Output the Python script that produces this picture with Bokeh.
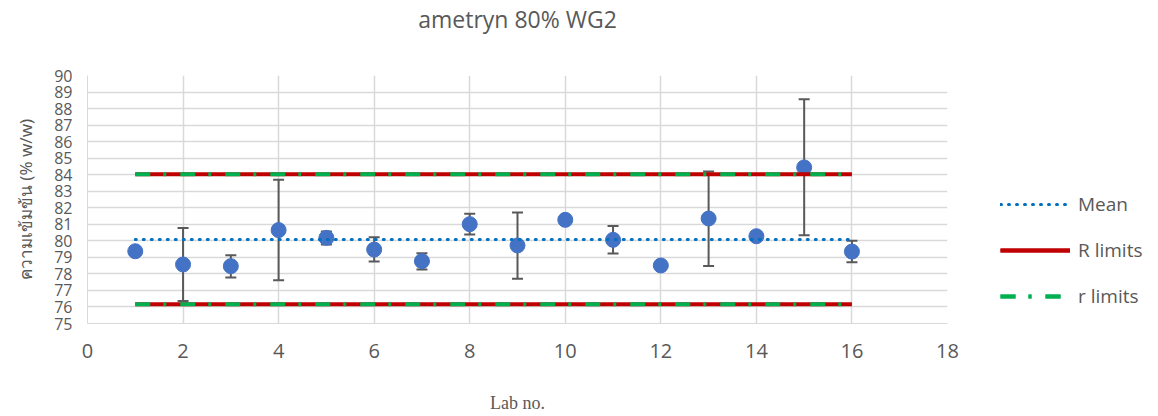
import math
from bokeh.plotting import figure
from bokeh.models import (ColumnDataSource, Range1d, FixedTicker, Whisker, TeeHead,
                          Legend, LegendItem, Title)
from bokeh.embed import file_html
from bokeh.resources import INLINE

# ---------------- data ----------------
labs = list(range(1, 17))
values = [79.37, 78.57, 78.47, 80.65, 80.18, 79.47, 78.77, 81.01,
          79.72, 81.27, 80.06, 78.51, 81.35, 80.28, 84.44, 79.35]
err_upper = [None, 80.77, 79.13, 83.70, 80.56, 80.22, 79.25, 81.64,
             81.72, None, 80.89, None, 84.20, None, 88.57, 80.00]
err_lower = [None, 76.36, 77.78, 77.62, 79.78, 78.75, 78.26, 80.38,
             77.70, None, 79.23, None, 78.48, None, 80.34, 78.71]
line_x = [1, 16]
mean_value = 80.08
R_limits = [76.16, 84.02]
r_limits = [76.16, 84.02]
x_ticks = list(range(0, 19, 2))
y_ticks = list(range(75, 91))

TXT = "#595959"
GRID = "#D9D9D9"

p = figure(frame_width=860, frame_height=248, min_border_left=87, min_border_right=205,
           min_border_top=74, min_border_bottom=88,
           x_range=Range1d(0, 18), y_range=Range1d(75, 90),
           output_backend="svg", toolbar_location=None)
p.outline_line_color = None
p.background_fill_color = "white"

p.title.text = "ametryn 80% WG2"
p.title.align = "center"
p.title.text_font = "Open Sans"
p.title.text_font_size = "23px"
p.title.text_font_style = "normal"
p.title.text_color = TXT
p.title.standoff = 0

# spacer title (placed between the frame and the real title)
spacer = Title(text=" ", text_font_size="10px", standoff=28, text_color=TXT)
p.add_layout(spacer, "above")

# axes
p.xaxis.ticker = FixedTicker(ticks=x_ticks)
p.yaxis.ticker = FixedTicker(ticks=y_ticks)
for ax in (p.xaxis[0], p.yaxis[0]):
    ax.axis_line_color = GRID
    ax.axis_line_width = 1
    ax.major_tick_line_color = None
    ax.minor_tick_line_color = None
    ax.major_tick_out = 0
    ax.major_tick_in = 0
    ax.major_label_text_color = TXT
    ax.major_label_text_font = "Open Sans"
p.xaxis.major_label_text_font_size = "20px"
p.xaxis.major_label_standoff = 20
p.yaxis.major_label_text_font_size = "16px"
p.yaxis.major_label_standoff = 15
p.xaxis.axis_label = "Lab no."
p.xaxis.axis_label_text_font = "Liberation Serif"
p.xaxis.axis_label_text_font_size = "18px"
p.xaxis.axis_label_text_font_style = "normal"
p.xaxis.axis_label_text_color = TXT
p.xaxis.axis_label_standoff = 32
p.yaxis.axis_label = "ความเข้มข้น (% w/w)"
p.yaxis.axis_label_text_font = "Noto Sans"
p.yaxis.axis_label_text_font_size = "17px"
p.yaxis.axis_label_text_font_style = "normal"
p.yaxis.axis_label_text_color = TXT
p.yaxis.axis_label_standoff = 14

p.xgrid.grid_line_color = GRID
p.ygrid.grid_line_color = GRID
p.xgrid.grid_line_width = 1.5
p.ygrid.grid_line_width = 1.5

# error bars
ex = [l for l, u in zip(labs, err_upper) if u is not None]
eu = [u for u in err_upper if u is not None]
el = [lo for lo in err_lower if lo is not None]
esrc = ColumnDataSource(dict(x=ex, upper=eu, lower=el))
wh = Whisker(base="x", upper="upper", lower="lower", source=esrc,
             line_color="#595959", line_width=2,
             upper_head=TeeHead(size=11, line_color="#595959", line_width=2),
             lower_head=TeeHead(size=11, line_color="#595959", line_width=2))
p.add_layout(wh)

# points
p.scatter(labs, values, size=15, fill_color="#4472C4", line_color="#4472C4")

# lines
mean_r = p.line(line_x, [mean_value, mean_value], line_color="#0070C0", line_width=3,
                line_dash="1 7", line_cap="round")
R_rs = [p.line(line_x, [v, v], line_color="#C00000", line_width=4) for v in R_limits]
r_rs = [p.line(line_x, [v, v], line_color="#00B050", line_width=4, line_dash="15 13 3 14")
        for v in r_limits]

legend = Legend(items=[LegendItem(label="Mean", renderers=[mean_r]),
                       LegendItem(label="R limits", renderers=R_rs),
                       LegendItem(label="r limits", renderers=r_rs)],
                location=(53, 14))
legend.padding = 0
legend.margin = 0
legend.border_line_color = None
legend.background_fill_alpha = 0
legend.glyph_width = 70
legend.glyph_height = 20
legend.label_height = 20
legend.spacing = 20
legend.label_standoff = 8
legend.label_text_font = "Open Sans"
legend.label_text_font_size = "19px"
legend.label_text_color = TXT
p.add_layout(legend, "right")

open("out.html", "w").write(file_html(p, INLINE))
